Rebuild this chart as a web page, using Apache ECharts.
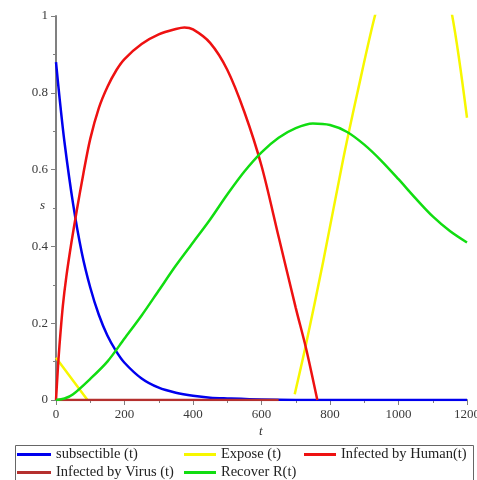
<!DOCTYPE html>
<html>
<head>
<meta charset="utf-8">
<script src="https://cdn.jsdelivr.net/npm/echarts@6/dist/echarts.min.js"></script>
<style>html,body{margin:0;padding:0;background:#fff;}#c{width:477px;height:480px;}</style>
</head>
<body>
<div id="c"></div>
<script>
// Tick values
const xTicks = [0, 200, 400, 600, 800, 1000, 1200];
const yTicks = [0, 0.2, 0.4, 0.6, 0.8, 1];

// Series names
const names = ['subsectible (t)', 'Expose (t)', 'Infected by Human(t)', 'Infected by Virus (t)', 'Recover R(t)'];

// subsectible (t)
const tS = [0, 10, 25, 50, 75, 100, 125, 150, 175, 200, 250, 300, 350, 400, 450, 500, 600, 700, 800, 900, 1000, 1100, 1200];
const vS = [0.88, 0.79, 0.67, 0.51, 0.385, 0.293, 0.222, 0.168, 0.128, 0.097, 0.056, 0.032, 0.019, 0.011, 0.006, 0.004, 0.001, 0, 0, 0, 0, 0, 0];

// Expose (t)  ('-' marks the gap between the two visible pieces)
const tE = [0, 92, 500, 697, 730, 780, 838, 880, 931, 980, 1040, 1100, 1157, 1200];
const vE = [0.11, 0, '-', 0.015, 0.145, 0.36, 0.625, 0.80, 1.0, 1.15, 1.27, 1.22, 1.0, 0.735];

// Infected by Human(t)
const tH = [0, 5, 10, 20, 30, 45, 60, 80, 100, 125, 150, 177, 200, 250, 300, 350, 375, 400, 450, 500, 550, 600, 650, 700, 730, 763];
const vH = [0, 0.075, 0.14, 0.245, 0.32, 0.41, 0.49, 0.59, 0.68, 0.76, 0.815, 0.86, 0.888, 0.927, 0.952, 0.966, 0.97, 0.965, 0.93, 0.86, 0.75, 0.61, 0.425, 0.24, 0.135, 0];

// Infected by Virus (t)
const tV = [0, 650];
const vV = [0, 0];

// Recover R(t)
const tR = [0, 25, 50, 100, 150, 200, 250, 300, 350, 400, 450, 500, 550, 600, 650, 700, 750, 800, 850, 900, 950, 1000, 1050, 1100, 1150, 1200];
const vR = [0, 0.004, 0.015, 0.055, 0.10, 0.16, 0.22, 0.285, 0.35, 0.41, 0.47, 0.535, 0.595, 0.645, 0.683, 0.708, 0.72, 0.716, 0.698, 0.665, 0.623, 0.575, 0.525, 0.478, 0.44, 0.41];

const colors = ['#0000ee', '#f7f700', '#ee1111', '#b5302e', '#11dd11'];

function pairs(t, v) { return t.map((x, i) => [x, v[i]]); }

const serif = 'Liberation Serif';
const chart = echarts.init(document.getElementById('c'), null, {renderer: 'canvas'});

const seriesData = [pairs(tS, vS), pairs(tE, vE), pairs(tH, vH), pairs(tV, vV), pairs(tR, vR)];

const legendPos = [
  {left: 17, top: 447, w: 34},
  {left: 184, top: 447, w: 32},
  {left: 304, top: 447, w: 32},
  {left: 17, top: 465, w: 34},
  {left: 184, top: 465, w: 32}
];

const option = {
  animation: false,
  backgroundColor: '#fff',
  grid: {left: 56, right: 10, top: 16, bottom: 80, containLabel: false, outerBoundsMode: 'none'},
  xAxis: {
    type: 'value', min: 0, max: 1200, interval: 200,
    axisLine: {show: true, onZero: false, lineStyle: {color: '#808080', width: 2}},
    axisTick: {show: true, length: 5, lineStyle: {color: '#808080'}},
    minorTick: {show: true, splitNumber: 2, length: 3, lineStyle: {color: '#808080'}},
    splitLine: {show: false},
    axisLabel: {fontFamily: serif, fontSize: 13, color: '#3a3a3a', margin: 8, hideOverlap: false,
      formatter: v => xTicks.includes(v) ? String(v) : ''}
  },
  yAxis: {
    type: 'value', min: 0, max: 1, interval: 0.2,
    axisLine: {show: true, onZero: false, lineStyle: {color: '#808080', width: 2}},
    axisTick: {show: true, length: 5, lineStyle: {color: '#808080'}},
    minorTick: {show: true, splitNumber: 2, length: 3, lineStyle: {color: '#808080'}},
    splitLine: {show: false},
    axisLabel: {fontFamily: serif, fontSize: 13, color: '#3a3a3a', margin: 8,
      formatter: v => { const m = yTicks.find(y => Math.abs(y - v) < 1e-9); return m === undefined ? '' : String(m); }}
  },
  legend: names.map((n, i) => ({
    data: [n], left: legendPos[i].left, top: legendPos[i].top, padding: 0,
    icon: 'rect', itemWidth: legendPos[i].w, itemHeight: 3, selectedMode: false,
    textStyle: {fontFamily: serif, fontSize: 14.5, color: '#222'}
  })),
  series: names.map((n, i) => ({
    name: n, type: 'line', data: seriesData[i],
    showSymbol: false, symbol: 'none', smooth: 0.3,
    connectNulls: false, clip: true,
    lineStyle: {color: colors[i], width: 2.5},
    itemStyle: {color: colors[i]},
    z: 2 + i
  })),
  graphic: [
    {type: 'rect', left: 13, top: 443, shape: {x: 0, y: 0, width: 458, height: 45},
      style: {fill: 'none', stroke: '#666', lineWidth: 1}, z: 0},
    {type: 'text', left: 40, top: 199, style: {text: 's', font: 'italic 13px "Liberation Serif"', fill: '#333'}},
    {type: 'text', left: 259, top: 425, style: {text: 't', font: 'italic 13px "Liberation Serif"', fill: '#333'}}
  ]
};
chart.setOption(option);
</script>
</body>
</html>
